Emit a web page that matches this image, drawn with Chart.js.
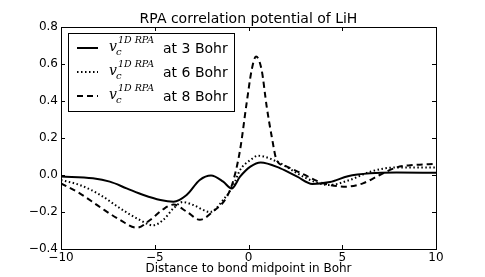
<!DOCTYPE html>
<html>
<head>
<meta charset="utf-8">
<script src="https://cdn.jsdelivr.net/npm/chart.js@4.4.0/dist/chart.umd.min.js"></script>
<style>
html, body { margin: 0; padding: 0; background: #fff; }
#wrap { width: 485px; height: 277px; }
</style>
</head>
<body>
<div id="wrap"><canvas id="chart"></canvas></div>
<script>
var chart_title = "RPA correlation potential of LiH";
var x_label = "Distance to bond midpoint in Bohr";
var series_names = ["at 3 Bohr", "at 6 Bohr", "at 8 Bohr"];
var x_ticks = [-10, -5, 0, 5, 10];
var y_ticks = [-0.4, -0.2, 0.0, 0.2, 0.4, 0.6, 0.8];

// 3 Bohr (solid)
var x_3 = [-10, -8.3, -7.4, -6.5, -5.6, -4.7, -4.0, -3.3, -2.6, -2.0, -1.35, -0.9, -0.45, 0.1, 0.65, 1.7, 2.6, 3.4, 4.35, 5.3, 6.5, 7.9, 10];
var y_3 = [-0.008, -0.018, -0.036, -0.072, -0.108, -0.135, -0.144, -0.108, -0.027, -0.003, -0.036, -0.073, -0.009, 0.045, 0.068, 0.036, -0.009, -0.048, -0.038, -0.007, 0.009, 0.013, 0.012];

// 6 Bohr (dotted)
var x_6 = [-10, -9.0, -7.9, -6.85, -5.8, -5.1, -4.55, -4.0, -3.5, -2.95, -2.05, -1.35, -0.8, -0.45, 0.1, 0.5, 1.7, 2.6, 3.5, 4.3, 5.4, 6.5, 7.9, 10];
var y_6 = [-0.027, -0.054, -0.108, -0.18, -0.243, -0.272, -0.243, -0.18, -0.146, -0.162, -0.2, -0.135, -0.054, 0.027, 0.081, 0.104, 0.063, 0.009, -0.036, -0.054, -0.027, 0.018, 0.041, 0.041];

// 8 Bohr (dashed)
var x_8 = [-10, -9.0, -7.9, -6.85, -5.95, -5.25, -4.55, -4.0, -3.3, -2.6, -1.9, -1.15, -0.8, -0.45, -0.1, 0.17, 0.4, 0.7, 0.97, 1.24, 1.5, 2.05, 2.9, 4.0, 5.2, 6.1, 7.0, 7.9, 8.8, 10];
var y_8 = [-0.045, -0.099, -0.175, -0.243, -0.285, -0.243, -0.185, -0.16, -0.198, -0.242, -0.198, -0.117, -0.027, 0.135, 0.388, 0.568, 0.64, 0.568, 0.37, 0.207, 0.081, 0.045, 0.005, -0.045, -0.063, -0.045, 0.0, 0.041, 0.054, 0.06];

function toPoints(xs, ys) {
    var out = [];
    for (var i = 0; i < xs.length; i++) {
        out.push({x: xs[i], y: ys[i]});
    }
    return out;
}

function fmtTick(v, digits) {
    var s = Math.abs(v).toFixed(digits);
    if (v < -1e-9) s = "\u2212" + s;
    return s;
}

var font_sans = "'DejaVu Sans', sans-serif";
var font_serif = "'DejaVu Serif', serif";

// inside tick marks + frame, mpl style
var framePlugin = {
    id: 'frame',
    afterDatasetsDraw: function(chart) {
        var ctx = chart.ctx;
        var a = chart.chartArea;
        var xs = chart.scales.x, ys = chart.scales.y;
        var len = 4;
        ctx.save();
        ctx.strokeStyle = '#000';
        ctx.lineWidth = 1;
        ctx.beginPath();
        x_ticks.forEach(function(t) {
            var px = Math.round(xs.getPixelForValue(t)) + 0.5;
            ctx.moveTo(px, a.bottom); ctx.lineTo(px, a.bottom - len);
            ctx.moveTo(px, a.top); ctx.lineTo(px, a.top + len);
        });
        y_ticks.forEach(function(t) {
            var py = Math.round(ys.getPixelForValue(t)) + 0.5;
            ctx.moveTo(a.left, py); ctx.lineTo(a.left + len, py);
            ctx.moveTo(a.right, py); ctx.lineTo(a.right - len, py);
        });
        ctx.stroke();
        ctx.strokeRect(Math.round(a.left) + 0.5, Math.round(a.top) + 0.5, Math.round(a.right - a.left), Math.round(a.bottom - a.top));

        // title centred over the plot area
        ctx.fillStyle = '#000';
        ctx.font = "14px " + font_sans;
        ctx.textAlign = 'center';
        ctx.textBaseline = 'alphabetic';
        ctx.fillText(chart_title, (a.left + a.right) / 2, a.top - 4);
        ctx.restore();
    }
};

// legend with the v_c^{1D RPA} label
var legendPlugin = {
    id: 'mathLegend',
    afterDraw: function(chart) {
        var ctx = chart.ctx;
        var a = chart.chartArea;
        var bx = a.left + 7, by = a.top + 6, bw = 166, bh = 78;
        ctx.save();
        ctx.fillStyle = '#fff';
        ctx.fillRect(bx, by, bw, bh);
        ctx.strokeStyle = '#000';
        ctx.lineWidth = 1;
        ctx.strokeRect(Math.round(bx) + 0.5, Math.round(by) + 0.5, bw, bh);
        chart.data.datasets.forEach(function(ds, i) {
            var cy = by + 15 + i * 24;
            ctx.beginPath();
            ctx.setLineDash(ds.borderDash || []);
            ctx.lineWidth = ds.borderWidth;
            ctx.strokeStyle = ds.borderColor;
            ctx.moveTo(bx + 9, cy);
            ctx.lineTo(bx + 30, cy);
            ctx.stroke();
            ctx.setLineDash([]);

            ctx.fillStyle = '#000';
            ctx.textAlign = 'left';
            ctx.textBaseline = 'alphabetic';
            var tx = bx + 41;
            ctx.font = "italic 14px " + font_serif;
            ctx.fillText("v", tx, cy + 3);
            ctx.font = "italic 10px " + font_serif;
            ctx.fillText("c", tx + 7, cy + 7);
            ctx.font = "italic 9.5px " + font_serif;
            ctx.fillText("1D RPA", tx + 9, cy - 5);
            ctx.font = "14px " + font_sans;
            ctx.fillText(series_names[i], tx + 54, cy + 5);
        });
        ctx.restore();
    }
};

var common = {
    fill: false,
    pointRadius: 0,
    borderColor: '#000',
    borderWidth: 2,
    cubicInterpolationMode: 'monotone',
    borderCapStyle: 'butt'
};

var datasets = [
    Object.assign({label: series_names[0], data: toPoints(x_3, y_3)}, common),
    Object.assign({label: series_names[1], data: toPoints(x_6, y_6), borderDash: [1.5, 2.5]}, common),
    Object.assign({label: series_names[2], data: toPoints(x_8, y_8), borderDash: [6, 4]}, common)
];

new Chart(document.getElementById('chart').getContext('2d'), {
    type: 'line',
    data: {datasets: datasets},
    options: {
        responsive: true,
        maintainAspectRatio: false,
        animation: false,
        layout: {padding: {top: 27, right: 49, bottom: 0, left: 0}},
        plugins: {
            legend: {display: false},
            title: {display: false},
            tooltip: {enabled: false}
        },
        scales: {
            x: {
                type: 'linear',
                min: -10, max: 10,
                afterBuildTicks: function(s) { s.ticks = x_ticks.map(function(v) { return {value: v}; }); },
                afterFit: function(s) { s.height = 28; },
                grid: {display: false, drawTicks: false, tickLength: 0},
                border: {display: false},
                ticks: {
                    color: '#000', padding: 2, maxRotation: 0,
                    font: {family: font_sans, size: 12},
                    callback: function(v) { return fmtTick(v, 0); }
                },
                title: {
                    display: true, text: x_label, color: '#000',
                    font: {family: font_sans, size: 12},
                    padding: {top: 0, bottom: 1}
                }
            },
            y: {
                type: 'linear',
                min: -0.4, max: 0.8,
                afterBuildTicks: function(s) { s.ticks = y_ticks.map(function(v) { return {value: v}; }); },
                afterFit: function(s) { s.width = 61; },
                grid: {display: false, drawTicks: false, tickLength: 0},
                border: {display: false},
                ticks: {
                    color: '#000', padding: 3,
                    font: {family: font_sans, size: 12},
                    callback: function(v) { return fmtTick(v, 1); }
                }
            }
        }
    },
    plugins: [framePlugin, legendPlugin]
});
</script>
</body>
</html>
